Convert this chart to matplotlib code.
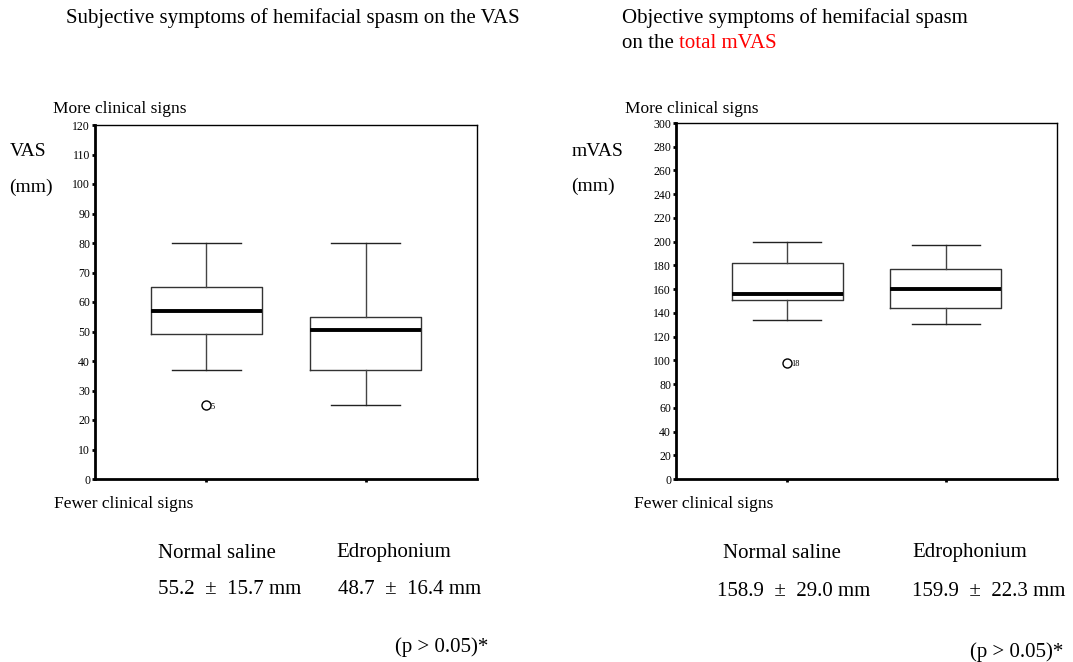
import matplotlib

matplotlib.use("Agg")

import matplotlib.pyplot as plt

plt.rcParams.update(
    {
        "font.family": "Liberation Serif",
        "axes.linewidth": 1.0,
    }
)

# group names and summary text
groups = ["Normal saline", "Edrophonium"]
vas_summary = ["55.2  \u00b1  15.7 mm", "48.7  \u00b1  16.4 mm"]
mvas_summary = ["158.9  \u00b1  29.0 mm", "159.9  \u00b1  22.3 mm"]

# box statistics: VAS (mm)
vas_whislo = [37, 25]
vas_q1 = [49, 37]
vas_med = [57, 50.5]
vas_q3 = [65, 55]
vas_whishi = [80, 80]
vas_fliers = [[25], []]
vas_flier_ids = [["5"], []]

# box statistics: total mVAS (mm)
mvas_whislo = [134, 131]
mvas_q1 = [151, 144]
mvas_med = [156, 160]
mvas_q3 = [182, 177]
mvas_whishi = [200, 197]
mvas_fliers = [[98], []]
mvas_flier_ids = [["18"], []]

W, H = 1073, 662


def px(x, y):
    return x / W, 1 - y / H


def make_stats(whislo, q1, med, q3, whishi, fliers):
    return [
        dict(whislo=a, q1=b, med=c, q3=d, whishi=e, fliers=f, label="")
        for a, b, c, d, e, f in zip(whislo, q1, med, q3, whishi, fliers)
    ]


def draw_box(ax, stats, flier_ids, ymax, step):
    ax.bxp(
        stats,
        positions=[1, 2],
        widths=0.7,
        capwidths=0.43,
        showfliers=True,
        boxprops=dict(color="#333333", linewidth=1.0),
        whiskerprops=dict(color="#444444", linewidth=1.0),
        capprops=dict(color="#222222", linewidth=1.0),
        medianprops=dict(color="black", linewidth=2.8),
        flierprops=dict(marker="o", markersize=6.5, markerfacecolor="none",
                        markeredgecolor="black", markeredgewidth=1.0),
    )
    for pos, (st, ids) in enumerate(zip(stats, flier_ids), start=1):
        for val, lab in zip(st["fliers"], ids):
            ax.annotate(lab, (pos, val), xytext=(3, -1), textcoords="offset points",
                        fontsize=6, va="center", ha="left")
    ax.set_xlim(0.3, 2.7)
    ax.set_ylim(0, ymax)
    ax.set_yticks(range(0, ymax + 1, step))
    ax.set_xticks([1, 2])
    ax.set_xticklabels(["", ""])
    ax.tick_params(axis="both", direction="out", length=2.5, width=2, labelsize=8.5, pad=1)
    ax.spines["left"].set_linewidth(2.0)
    ax.spines["bottom"].set_linewidth(2.0)


fig = plt.figure(figsize=(W / 100, H / 100), dpi=100)

ax1 = fig.add_axes([95 / W, 1 - 479 / H, 382 / W, 354 / H])
draw_box(ax1, make_stats(vas_whislo, vas_q1, vas_med, vas_q3, vas_whishi, vas_fliers),
         vas_flier_ids, 120, 10)

ax2 = fig.add_axes([676 / W, 1 - 479 / H, 381 / W, 356 / H])
draw_box(ax2, make_stats(mvas_whislo, mvas_q1, mvas_med, mvas_q3, mvas_whishi, mvas_fliers),
         mvas_flier_ids, 300, 20)

fs = 15
fs_side = 12.5
fs_unit = 14

# left panel text
fig.text(*px(66, 18), "Subjective symptoms of hemifacial spasm on the VAS", fontsize=fs, va="center")
fig.text(*px(53, 109), "More clinical signs", fontsize=fs_side, va="center")
fig.text(*px(10, 152), "VAS", fontsize=fs_unit, va="center")
fig.text(*px(9, 187), "(mm)", fontsize=fs_unit, va="center")
fig.text(*px(54, 504), "Fewer clinical signs", fontsize=fs_side, va="center")
fig.text(*px(158, 553), groups[0], fontsize=fs, va="center")
fig.text(*px(336, 553), groups[1], fontsize=fs, va="center")
fig.text(*px(158, 590), vas_summary[0], fontsize=fs, va="center")
fig.text(*px(338, 590), vas_summary[1], fontsize=fs, va="center")
fig.text(*px(395, 647), "(p > 0.05)*", fontsize=fs, va="center")

# right panel text
fig.text(*px(622, 18), "Objective symptoms of hemifacial spasm", fontsize=fs, va="center")
t = fig.text(*px(622, 43), "on the ", fontsize=fs, va="center")
fig.canvas.draw()
bb = t.get_window_extent()
fig.text(bb.x1 / W, 1 - 43 / H, "total mVAS", fontsize=fs, color="red", va="center")
fig.text(*px(625, 109), "More clinical signs", fontsize=fs_side, va="center")
fig.text(*px(572, 152), "mVAS", fontsize=fs_unit, va="center")
fig.text(*px(571, 186), "(mm)", fontsize=fs_unit, va="center")
fig.text(*px(634, 504), "Fewer clinical signs", fontsize=fs_side, va="center")
fig.text(*px(723, 553), groups[0], fontsize=fs, va="center")
fig.text(*px(912, 553), groups[1], fontsize=fs, va="center")
fig.text(*px(717, 592), mvas_summary[0], fontsize=fs, va="center")
fig.text(*px(912, 592), mvas_summary[1], fontsize=fs, va="center")
fig.text(*px(970, 652), "(p > 0.05)*", fontsize=fs, va="center")

fig.savefig("out.png", dpi=100)
plt.close(fig)
